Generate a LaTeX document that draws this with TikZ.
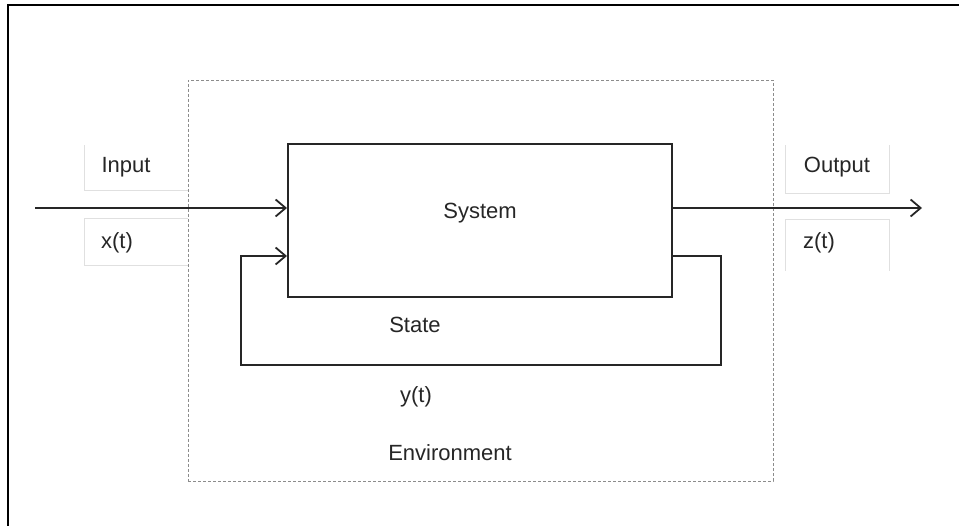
\documentclass[tikz,border=0pt]{standalone}
\usepackage{fontspec}
\setmainfont{Liberation Sans}
\usetikzlibrary{arrows.meta}
\begin{document}
\begin{tikzpicture}[x=1pt,y=-1pt,
  lbl/.style={inner sep=0pt, font=\fontsize{22}{24}\selectfont, text=black!85},
  line/.style={draw=black!85, line width=2pt},
  arr/.style={line, -{Straight Barb[length=10pt,width=17pt,line width=1.8pt]}},
  faint/.style={draw=black!12, line width=1pt},
  envbox/.style={draw=black!45, line width=0.8pt, dash pattern=on 3pt off 2pt}]
\useasboundingbox (0,0) rectangle (959,526);
% outer frame (only top and left edges visible)
\draw[black, line width=2.2pt] (8,526) -- (8,5) -- (959,5);
% environment
\node[envbox, minimum width=585pt, minimum height=401pt, inner sep=0pt] (env) at (480.5,280.5) {};
% label boxes
\draw[faint] (84,145) -- (84,191) -- (188,191);
\draw[faint] (188,219) -- (84,219) -- (84,266) -- (188,266);
\draw[faint] (785,145) -- (785,194) -- (889,194) -- (889,145);
\draw[faint] (785,271) -- (785,220) -- (889,220) -- (889,271);
% system
\node[line, minimum width=384pt, minimum height=153pt, inner sep=0pt] (sys) at (480,220.5) {};
\node[lbl] (systxt) at (480,213) {System};
% texts
\node[lbl] (input) at (126,167) {Input};
\node[lbl] (xt) at (117,243) {x(t)};
\node[lbl] (output) at (837,167) {Output};
\node[lbl] (zt) at (819,243) {z(t)};
\node[lbl] (state) at (415,325) {State};
\node[lbl] (yt) at (416,397) {y(t)};
\node[lbl] (envtxt) at (450,453) {Environment};
% connectors
\coordinate (in0) at (35,208);
\coordinate (out1) at (922,208);
\coordinate (fb1) at (721,256);
\coordinate (fb2) at (721,365);
\coordinate (fb3) at (241,365);
\coordinate (fb4) at (241,256);
\draw[arr] (in0) -- (sys.west |- in0);
\draw[arr] (sys.east |- out1) -- (out1);
\draw[arr] (sys.east |- fb1) -- (fb1) -- (fb2) -- (fb3) -- (fb4) -- (sys.west |- fb4);
\end{tikzpicture}
\end{document}
